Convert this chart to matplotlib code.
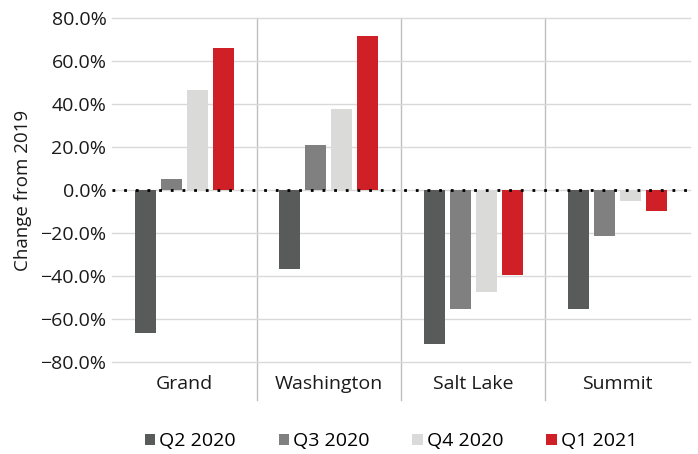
import numpy as np
import matplotlib
matplotlib.use("Agg")
import matplotlib.pyplot as plt
from matplotlib.ticker import PercentFormatter

plt.rcParams['font.family'] = ['Open Sans', 'DejaVu Sans']

counties = ["Grand", "Washington", "Salt Lake", "Summit"]
quarters = ["Q2 2020", "Q3 2020", "Q4 2020", "Q1 2021"]
q2_2020 = [-66.5, -36.8, -71.6, -55.4]
q3_2020 = [5.0, 20.8, -55.5, -21.6]
q4_2020 = [46.7, 37.8, -47.6, -5.2]
q1_2021 = [66.1, 71.6, -39.3, -9.7]
colors = ["#595b5a", "#808080", "#dadad9", "#cf2028"]

series = [q2_2020, q3_2020, q4_2020, q1_2021]

fig = plt.figure(figsize=(6.98, 4.54), dpi=100)
ax = fig.add_axes([0.1605, 0.2026, 0.828, 0.7577])

x = np.arange(len(counties))
slot = 0.18
bw = 0.143
for i, (vals, lab, col) in enumerate(zip(series, quarters, colors)):
    ax.bar(x + (i - 1.5) * slot, vals, width=bw, color=col, label=lab, zorder=3)

ax.set_xlim(-0.5, len(counties) - 0.5)
ax.set_ylim(-80, 80)
ax.set_yticks(np.arange(-80, 81, 20))
ax.yaxis.set_major_formatter(PercentFormatter(decimals=1))
ax.grid(axis='y', color='#d9d9d9', linewidth=1, zorder=0)
for gl in ax.get_ygridlines():
    gl.set_clip_on(False)
ax.axhline(0, color='black', linestyle=(0, (1, 3.2)), linewidth=2, zorder=4)

# category separators, running down past the plot area
for b in x[:-1] + 0.5:
    ax.plot([b, b], [-0.11, 1], transform=ax.get_xaxis_transform(),
            color='#bfbfbf', linewidth=1, clip_on=False, zorder=1)

for s in ax.spines.values():
    s.set_visible(False)
ax.tick_params(axis='both', length=0, labelsize=14, colors='#1a1a1a')
ax.tick_params(axis='y', pad=4)
ax.tick_params(axis='x', pad=9)
ax.set_xticks(x)
ax.set_xticklabels(counties)
ax.set_ylabel("Change from 2019", fontsize=13.5, color='#1a1a1a', labelpad=6)

ax.legend(loc='center', bbox_to_anchor=(0.56, 0.028), bbox_transform=fig.transFigure,
          ncol=4, frameon=False, fontsize=14, handlelength=0.55, handleheight=0.55,
          handletextpad=0.2, columnspacing=2.2)

fig.savefig("out.png", dpi=100)
